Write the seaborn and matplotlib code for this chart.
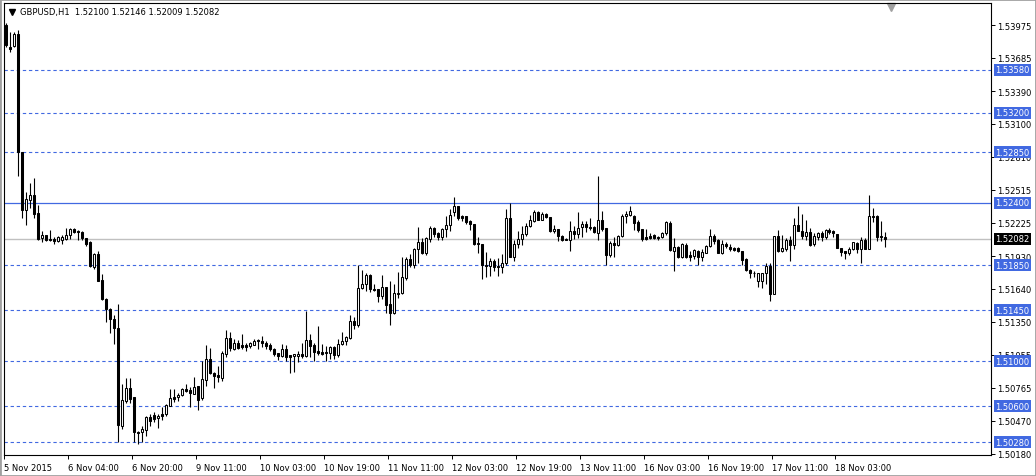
import seaborn as sns
import matplotlib.pyplot as plt
from matplotlib.patches import Rectangle

# GBPUSD H1 candles, 5 Nov 2015 12:00 .. 18 Nov 2015
opens = [
    1.53980, 1.53780, 1.53790, 1.53900, 1.52850, 1.52335, 1.52429, 1.52474, 1.52312, 1.52088,
    1.52117, 1.52082, 1.52082, 1.52061, 1.52070, 1.52082, 1.52117, 1.52170, 1.52156, 1.52147,
    1.52091, 1.52050, 1.51835, 1.51944, 1.51714, 1.51552, 1.51464, 1.51375, 1.51296, 1.50428,
    1.50643, 1.50757, 1.50678, 1.50369, 1.50369, 1.50392, 1.50501, 1.50522, 1.50492, 1.50530,
    1.50528, 1.50604, 1.50684, 1.50678, 1.50698, 1.50751, 1.50745, 1.50710, 1.50775, 1.50669,
    1.50834, 1.51022, 1.50893, 1.50875, 1.50851, 1.51066, 1.51208, 1.51105, 1.51163, 1.51140,
    1.51140, 1.51134, 1.51143, 1.51187, 1.51181, 1.51163, 1.51146, 1.51110, 1.51069, 1.51046,
    1.51110, 1.51052, 1.51046, 1.51046, 1.51063, 1.51046, 1.51184, 1.51140, 1.51090, 1.51081,
    1.51078, 1.51075, 1.51128, 1.51058, 1.51152, 1.51180, 1.51205, 1.51352, 1.51320, 1.51643,
    1.51682, 1.51758, 1.51640, 1.51634, 1.51576, 1.51658, 1.51502, 1.51428, 1.51590, 1.51599,
    1.51738, 1.51905, 1.51852, 1.51988, 1.52056, 1.51953, 1.52082, 1.52179, 1.52135, 1.52100,
    1.52170, 1.52203, 1.52318, 1.52376, 1.52288, 1.52288, 1.52238, 1.52217, 1.52047, 1.52041,
    1.51850, 1.51840, 1.51885, 1.51846, 1.51835, 1.51870, 1.52268, 1.51923, 1.52038, 1.52082,
    1.52129, 1.52200, 1.52241, 1.52323, 1.52253, 1.52306, 1.52276, 1.52150, 1.52173, 1.52111,
    1.52082, 1.52070, 1.52156, 1.52121, 1.52185, 1.52217, 1.52188, 1.52188, 1.52135, 1.52253,
    1.52179, 1.51935, 1.52047, 1.52032, 1.52111, 1.52282, 1.52297, 1.52282, 1.52229, 1.52170,
    1.52100, 1.52111, 1.52120, 1.52100, 1.52100, 1.52135, 1.52223, 1.51973, 1.52011, 1.51923,
    1.52032, 1.51935, 1.51929, 1.51973, 1.51923, 1.51958, 1.52017, 1.52111, 1.52076, 1.51953,
    1.52041, 1.52011, 1.51999, 1.51999, 1.51976, 1.51905, 1.51805, 1.51782, 1.51708, 1.51708,
    1.51776, 1.51840, 1.51590, 1.52111, 1.51973, 1.51988, 1.52076, 1.52032, 1.52209, 1.52156,
    1.52111, 1.52147, 1.52041, 1.52100, 1.52135, 1.52100, 1.52159, 1.52153, 1.52129, 1.52003,
    1.51979, 1.51958, 1.51994, 1.52047, 1.51994, 1.52070, 1.51994, 1.52288, 1.52282, 1.52106,
    1.52100,
]
highs = [
    1.53990, 1.53910, 1.53910, 1.53930, 1.52850, 1.52497, 1.52577, 1.52621, 1.52385, 1.52156,
    1.52120, 1.52164, 1.52097, 1.52105, 1.52120, 1.52179, 1.52179, 1.52176, 1.52164, 1.52150,
    1.52094, 1.52061, 1.51953, 1.51973, 1.51773, 1.51555, 1.51467, 1.51405, 1.51502, 1.50796,
    1.50846, 1.50854, 1.50681, 1.50383, 1.50427, 1.50516, 1.50530, 1.50545, 1.50530, 1.50589,
    1.50619, 1.50751, 1.50751, 1.50716, 1.50757, 1.50801, 1.50766, 1.50863, 1.50775, 1.51002,
    1.51140, 1.51113, 1.50904, 1.50952, 1.51087, 1.51272, 1.51255, 1.51199, 1.51187, 1.51237,
    1.51163, 1.51170, 1.51199, 1.51193, 1.51222, 1.51178, 1.51158, 1.51116, 1.51075, 1.51149,
    1.51140, 1.51052, 1.51060, 1.51090, 1.51158, 1.51443, 1.51237, 1.51158, 1.51308, 1.51155,
    1.51134, 1.51134, 1.51134, 1.51193, 1.51260, 1.51222, 1.51408, 1.51387, 1.51847, 1.51802,
    1.51776, 1.51767, 1.51685, 1.51634, 1.51758, 1.51658, 1.51708, 1.51685, 1.51790, 1.51923,
    1.51923, 1.51952, 1.52003, 1.52188, 1.52091, 1.52100, 1.52200, 1.52185, 1.52141, 1.52179,
    1.52282, 1.52347, 1.52453, 1.52376, 1.52297, 1.52288, 1.52247, 1.52217, 1.52100, 1.52041,
    1.51967, 1.51914, 1.51900, 1.51914, 1.51950, 1.52347, 1.52400, 1.52076, 1.52150, 1.52194,
    1.52223, 1.52297, 1.52335, 1.52329, 1.52318, 1.52312, 1.52276, 1.52209, 1.52173, 1.52120,
    1.52091, 1.52238, 1.52200, 1.52318, 1.52238, 1.52238, 1.52268, 1.52200, 1.52641, 1.52326,
    1.52179, 1.52061, 1.52100, 1.52120, 1.52306, 1.52326, 1.52376, 1.52297, 1.52247, 1.52170,
    1.52170, 1.52135, 1.52129, 1.52111, 1.52141, 1.52238, 1.52238, 1.52091, 1.52017, 1.52047,
    1.52047, 1.51973, 1.51988, 1.51982, 1.51988, 1.52032, 1.52170, 1.52129, 1.52082, 1.52070,
    1.52058, 1.52041, 1.52011, 1.52011, 1.51976, 1.51914, 1.51817, 1.51796, 1.51782, 1.51776,
    1.51870, 1.51870, 1.52111, 1.52159, 1.52120, 1.52091, 1.52111, 1.52268, 1.52376, 1.52306,
    1.52247, 1.52176, 1.52135, 1.52141, 1.52150, 1.52170, 1.52176, 1.52164, 1.52129, 1.52003,
    1.51979, 1.52011, 1.52058, 1.52053, 1.52100, 1.52091, 1.52474, 1.52356, 1.52297, 1.52238,
    1.52146,
]
lows = [
    1.53780, 1.53740, 1.53779, 1.52637, 1.52270, 1.52208, 1.52356, 1.52268, 1.52075, 1.52053,
    1.52065, 1.52061, 1.52038, 1.52055, 1.52041, 1.52076, 1.52082, 1.52135, 1.52070, 1.52076,
    1.52017, 1.51835, 1.51817, 1.51705, 1.51540, 1.51346, 1.51246, 1.51155, 1.50280, 1.50398,
    1.50628, 1.50628, 1.50280, 1.50266, 1.50286, 1.50339, 1.50427, 1.50457, 1.50404, 1.50480,
    1.50516, 1.50598, 1.50634, 1.50648, 1.50692, 1.50722, 1.50595, 1.50707, 1.50569, 1.50657,
    1.50775, 1.50884, 1.50757, 1.50816, 1.50825, 1.51040, 1.51090, 1.51099, 1.51105, 1.51105,
    1.51090, 1.51119, 1.51140, 1.51111, 1.51128, 1.51111, 1.51090, 1.51046, 1.51010, 1.51040,
    1.50999, 1.50893, 1.50904, 1.50993, 1.51031, 1.51040, 1.51037, 1.50999, 1.51052, 1.51058,
    1.50999, 1.51016, 1.51016, 1.51040, 1.51140, 1.51140, 1.51193, 1.51281, 1.51305, 1.51634,
    1.51620, 1.51611, 1.51623, 1.51523, 1.51546, 1.51428, 1.51320, 1.51414, 1.51558, 1.51590,
    1.51717, 1.51835, 1.51826, 1.51870, 1.51944, 1.51935, 1.52053, 1.52100, 1.52070, 1.52076,
    1.52100, 1.52150, 1.52282, 1.52247, 1.52238, 1.52217, 1.52159, 1.52032, 1.51958, 1.51729,
    1.51746, 1.51752, 1.51796, 1.51752, 1.51776, 1.51855, 1.51923, 1.51885, 1.51997, 1.52032,
    1.52111, 1.52188, 1.52230, 1.52247, 1.52247, 1.52268, 1.52141, 1.52135, 1.52061, 1.52061,
    1.52070, 1.51973, 1.52082, 1.52091, 1.52100, 1.52141, 1.52159, 1.52135, 1.52076, 1.52150,
    1.51850, 1.51923, 1.51923, 1.52023, 1.52100, 1.52223, 1.52288, 1.52159, 1.52141, 1.52061,
    1.52076, 1.52082, 1.52082, 1.52076, 1.52088, 1.52120, 1.51973, 1.51796, 1.51914, 1.51914,
    1.51914, 1.51885, 1.51900, 1.51855, 1.51885, 1.51953, 1.52011, 1.52040, 1.51953, 1.51944,
    1.52003, 1.51973, 1.51973, 1.51964, 1.51850, 1.51796, 1.51738, 1.51746, 1.51658, 1.51649,
    1.51679, 1.51532, 1.51590, 1.51964, 1.51964, 1.51979, 1.51885, 1.51988, 1.52150, 1.52082,
    1.52076, 1.52023, 1.52017, 1.52076, 1.52061, 1.52082, 1.52129, 1.52100, 1.51999, 1.51929,
    1.51905, 1.51935, 1.51982, 1.51958, 1.51864, 1.51988, 1.51994, 1.52229, 1.52061, 1.52061,
    1.52009,
]
closes = [
    1.53800, 1.53760, 1.53900, 1.52850, 1.52341, 1.52435, 1.52471, 1.52306, 1.52082, 1.52117,
    1.52070, 1.52070, 1.52061, 1.52100, 1.52103, 1.52117, 1.52170, 1.52141, 1.52147, 1.52088,
    1.52041, 1.51841, 1.51944, 1.51708, 1.51546, 1.51458, 1.51375, 1.51296, 1.50433, 1.50654,
    1.50757, 1.50663, 1.50369, 1.50360, 1.50398, 1.50504, 1.50472, 1.50486, 1.50516, 1.50516,
    1.50610, 1.50675, 1.50663, 1.50698, 1.50751, 1.50739, 1.50716, 1.50766, 1.50657, 1.50840,
    1.51022, 1.50890, 1.50869, 1.50857, 1.51069, 1.51208, 1.51119, 1.51163, 1.51119, 1.51125,
    1.51125, 1.51158, 1.51175, 1.51178, 1.51158, 1.51134, 1.51105, 1.51063, 1.51046, 1.51110,
    1.51034, 1.51037, 1.51060, 1.51066, 1.51046, 1.51184, 1.51134, 1.51081, 1.51069, 1.51066,
    1.51069, 1.51128, 1.51058, 1.51155, 1.51175, 1.51211, 1.51352, 1.51317, 1.51649, 1.51685,
    1.51758, 1.51634, 1.51629, 1.51576, 1.51658, 1.51496, 1.51428, 1.51599, 1.51599, 1.51740,
    1.51905, 1.51852, 1.51988, 1.52056, 1.51953, 1.52091, 1.52179, 1.52129, 1.52100, 1.52170,
    1.52206, 1.52297, 1.52376, 1.52268, 1.52271, 1.52229, 1.52217, 1.52041, 1.52035, 1.51850,
    1.51840, 1.51885, 1.51835, 1.51835, 1.51870, 1.52268, 1.51923, 1.52038, 1.52085, 1.52129,
    1.52200, 1.52247, 1.52323, 1.52253, 1.52306, 1.52276, 1.52150, 1.52173, 1.52106, 1.52076,
    1.52070, 1.52156, 1.52129, 1.52179, 1.52217, 1.52185, 1.52182, 1.52141, 1.52253, 1.52170,
    1.51935, 1.52047, 1.52032, 1.52111, 1.52288, 1.52306, 1.52332, 1.52223, 1.52159, 1.52082,
    1.52082, 1.52094, 1.52091, 1.52088, 1.52135, 1.52229, 1.51982, 1.52011, 1.51923, 1.52041,
    1.51923, 1.51923, 1.51982, 1.51923, 1.51964, 1.52023, 1.52111, 1.52061, 1.51958, 1.52038,
    1.52017, 1.51988, 1.51982, 1.51973, 1.51899, 1.51805, 1.51782, 1.51776, 1.51776, 1.51776,
    1.51840, 1.51590, 1.52111, 1.51973, 1.51999, 1.52076, 1.52032, 1.52209, 1.52150, 1.52111,
    1.52147, 1.52032, 1.52111, 1.52135, 1.52100, 1.52159, 1.52141, 1.52135, 1.51999, 1.51964,
    1.51953, 1.51994, 1.52053, 1.51988, 1.52076, 1.51994, 1.52288, 1.52273, 1.52100, 1.52100,
    1.52082,
]

time_labels = ['5 Nov 2015', '6 Nov 04:00', '6 Nov 20:00', '9 Nov 11:00', '10 Nov 03:00',
               '10 Nov 19:00', '11 Nov 11:00', '12 Nov 03:00', '12 Nov 19:00', '13 Nov 11:00',
               '16 Nov 03:00', '16 Nov 19:00', '17 Nov 11:00', '18 Nov 03:00']
label_bars = [0, 16, 32, 48, 64, 80, 96, 112, 128, 144, 160, 176, 192, 208]

price_ticks = [1.53975, 1.53685, 1.53390, 1.53100, 1.52810, 1.52515, 1.52225,
               1.51930, 1.51640, 1.51350, 1.51055, 1.50765, 1.50470, 1.50180]
dashed_levels = [1.53580, 1.53200, 1.52850, 1.51850, 1.51450, 1.51000, 1.50600, 1.50280]
solid_level = 1.52400
last_price = 1.52082

BLUE = '#4169e1'

sns.set_style('white')
plt.rcParams['font.family'] = ['DejaVu Sans']

fig = plt.figure(figsize=(10.36, 4.77), dpi=100)
ax = fig.add_axes([4 / 1036, 21 / 477, 987 / 1036, 452 / 477])

# level lines
ax.axhline(last_price, color='#c0c0c0', lw=1, zorder=1)
ax.axhline(solid_level, color=BLUE, lw=0.9, zorder=1)
for lv in dashed_levels:
    ax.axhline(lv, color=BLUE, lw=0.8, ls=(0, (3, 2.5)), zorder=1)

# candles
xs = list(range(len(opens)))
ax.vlines(xs, lows, highs, color='black', lw=0.8, zorder=2)
bottoms = [min(o, c) for o, c in zip(opens, closes)]
heights = [max(abs(c - o), 1e-6) for o, c in zip(opens, closes)]
faces = ['white' if c > o else 'black' for o, c in zip(opens, closes)]
ax.bar(xs, heights, bottom=bottoms, width=0.5, color=faces,
       edgecolor='black', linewidth=0.75, zorder=3)

ax.set_xlim(-0.33, 246.4)
ax.set_ylim(1.50168, 1.54171)

# axes / ticks
for s in ax.spines.values():
    s.set_color('black')
    s.set_linewidth(0.8)
ax.yaxis.tick_right()
ax.set_yticks(price_ticks)
ax.set_yticklabels([f'{v:.5f}' for v in price_ticks])
ax.tick_params(axis='y', direction='out', length=3, width=0.7, pad=1.5,
               labelsize=6, colors='black', right=True)
ax.set_xticks([b - 0.5 for b in label_bars])
ax.set_xticklabels(time_labels, ha='left')
ax.tick_params(axis='x', direction='out', length=3, width=0.7, pad=2.5,
               labelsize=6, colors='black', bottom=True)
ax.grid(False)

# price tags on the right axis
tr = ax.get_yaxis_transform()
for lv in dashed_levels + [solid_level]:
    ax.text(1.0045, lv, f'{lv:.5f}', transform=tr, ha='left', va='center',
            fontsize=6, color='white', clip_on=False, zorder=10,
            bbox=dict(boxstyle='square,pad=0.18', fc=BLUE, ec='none'))
ax.text(1.0045, last_price, f'{last_price:.5f}', transform=tr, ha='left', va='center',
        fontsize=6, color='white', clip_on=False, zorder=10,
        bbox=dict(boxstyle='square,pad=0.18', fc='black', ec='none'))

# header
ax.plot([8 / 987], [1 - 9 / 452], marker='v', ms=4, color='black',
        transform=ax.transAxes, clip_on=False)
ax.text(16 / 987, 1 - 9 / 452,
        f'GBPUSD,H1  {opens[-1]:.5f} {highs[-1]:.5f} {lows[-1]:.5f} {closes[-1]:.5f}',
        transform=ax.transAxes, ha='left', va='center', fontsize=6, color='black')
ax.plot([887 / 987], [1 - 4 / 452], marker='v', ms=5.5, color='#a0a0a0',
        transform=ax.transAxes, clip_on=False)

# window frame
fig.patches.append(Rectangle((0, 0), 1, 1, transform=fig.transFigure, fill=False,
                             ec='#a0a0a0', lw=2))

fig.savefig('out.png', dpi=100)
